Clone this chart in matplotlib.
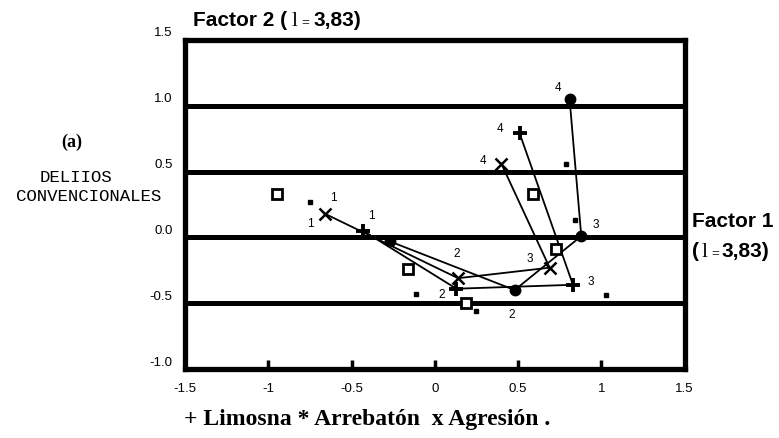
import matplotlib
matplotlib.use("Agg")
import matplotlib.pyplot as plt
import matplotlib.transforms as mtransforms

# ---------------- data ----------------
phases = ["1", "2", "3", "4"]

limosna_x = [-0.43, 0.13, 0.83, 0.51]
limosna_y = [0.05, -0.39, -0.36, 0.79]

arrebaton_x = [-0.27, 0.48, 0.88, 0.81]
arrebaton_y = [-0.03, -0.40, 0.01, 1.05]

agresion_x = [-0.66, 0.14, 0.69, 0.40]
agresion_y = [0.18, -0.31, -0.23, 0.56]

square_x = [-0.95, 0.59, 0.73, -0.16, 0.19]
square_y = [0.33, 0.33, -0.09, -0.24, -0.50]

dot_x = [-0.75, 0.79, 0.84, -0.11, 0.25, 1.03]
dot_y = [0.27, 0.56, 0.13, -0.43, -0.56, -0.44]

label_text = ["1", "1", "1", "2", "2", "2", "3", "3", "3", "4", "4", "4"]
label_x = [-0.61, -0.75, -0.38, 0.13, 0.04, 0.46, 0.97, 0.57, 0.94, 0.74, 0.39, 0.29]
label_y = [0.31, 0.11, 0.17, -0.12, -0.43, -0.58, 0.10, -0.16, -0.33, 1.14, 0.83, 0.59]

grid_levels = [1.0, 0.5, 0.0, -0.5]
xticks = [-1.5, -1.0, -0.5, 0.0, 0.5, 1.0, 1.5]
xtick_labels = ["-1.5", "-1", "-0.5", "0", "0.5", "1", "1.5"]
yticks = [-1.0, -0.5, 0.0, 0.5, 1.0, 1.5]
ytick_labels = ["-1.0", "-0.5", "0.0", "0.5", "1.0", "1.5"]

# ---------------- figure ----------------
W, H = 779, 439
fig = plt.figure(figsize=(W / 100, H / 100), dpi=100)
ax = fig.add_axes([185 / W, 1 - 370 / H, (684.5 - 185) / W, (370 - 41) / H])
ax.set_xlim(-1.5, 1.5)
ax.set_ylim(-1.0, 1.5)

for s in ax.spines.values():
    s.set_linewidth(3.8)
    s.set_color("black")

for v in grid_levels:
    ax.axhline(v, color="black", lw=3.6, zorder=1)

lw = 1.3
ax.plot(limosna_x, limosna_y, color="black", lw=lw, marker="+", ms=10, mew=2.8, zorder=3)
ax.plot(arrebaton_x, arrebaton_y, color="black", lw=lw, marker="o", ms=7.5, zorder=3)
ax.plot(agresion_x, agresion_y, color="black", lw=lw, marker="x", ms=8, mew=1.8, zorder=3)
ax.plot(square_x, square_y, ls="none", marker="s", ms=7, mfc="white", mec="black", mew=2, zorder=4)
ax.plot(dot_x, dot_y, ls="none", marker="s", ms=3, color="black", zorder=4)

for t, x, y in zip(label_text, label_x, label_y):
    ax.text(x, y, t, fontsize=8.5, family="Liberation Sans", ha="center", va="center", zorder=5)

ax.set_xticks(xticks)
ax.set_xticklabels(xtick_labels, fontsize=9.5, family="Liberation Sans")
ax.set_yticks(yticks)
ax.set_yticklabels(ytick_labels, fontsize=9.5, family="Liberation Sans")
ax.tick_params(axis="x", direction="in", length=6.5, width=2.5, pad=9, top=False)
ax.tick_params(axis="y", length=0, pad=9)
off = mtransforms.ScaledTranslation(0, 9 / 100, fig.dpi_scale_trans)
for lab in ax.get_yticklabels():
    lab.set_transform(lab.get_transform() + off)

# ---------------- texts ----------------
renderer = fig.canvas.get_renderer()


def chain(parts, x0, y0):
    x = x0
    for s, kw, gap in parts:
        t = fig.text(x / W, y0 / H, s, ha="left", va="baseline", **kw)
        bb = t.get_window_extent(renderer=renderer)
        x = bb.x1 + gap


bold = dict(family="Liberation Sans", weight="bold", fontsize=15)
serif_l = dict(family="Liberation Serif", fontsize=16)
small_eq = dict(family="Liberation Serif", fontsize=10)

chain([("Factor 2 (", bold, 4), ("l", serif_l, 4), ("=", small_eq, 4), ("3,83)", bold, 0)],
      193, H - 26)
chain([("Factor 1", bold, 0)], 692, H - 227)
chain([("(", bold, 3), ("l", serif_l, 3), ("=", small_eq, 3), ("3,83)", bold, 0)],
      692, H - 257)

fig.text(72 / W, 1 - 142 / H, "(a)", family="Liberation Serif", weight="bold",
         fontsize=13, ha="center", va="center")
fig.text(76 / W, 1 - 178 / H, "DELIIOS", family="Liberation Mono", fontsize=12.5,
         ha="center", va="center")
fig.text(89 / W, 1 - 197 / H, "CONVENCIONALES", family="Liberation Mono", fontsize=12.5,
         ha="center", va="center")

fig.text(184 / W, 1 - 420 / H, "+ Limosna * Arrebatón  x Agresión .",
         family="Liberation Serif", weight="bold", fontsize=17, ha="left", va="center")

fig.savefig("out.png", dpi=100)
